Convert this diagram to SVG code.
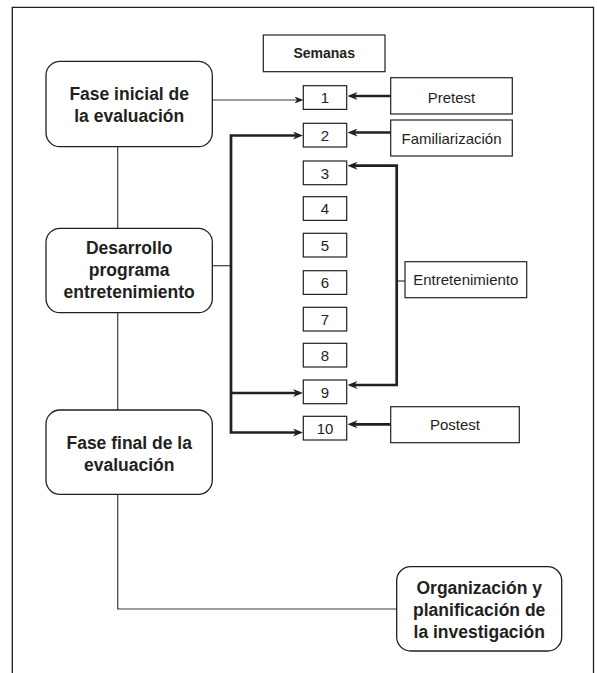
<svg xmlns="http://www.w3.org/2000/svg" width="597" height="673" viewBox="0 0 597 673">
<style>
.frame{fill:none;stroke:#231f20;stroke-width:1.3}
.rbox{fill:#fff;stroke:#231f20;stroke-width:1.3}
.box{fill:#fff;stroke:#231f20;stroke-width:1.2}
.thin{fill:none;stroke:#3a3a3a;stroke-width:1.2}
.thick{fill:none;stroke:#231f20;stroke-width:2.7;stroke-linejoin:miter}
.b{font-family:"Liberation Sans",Arial,sans-serif;font-weight:bold;font-size:17.5px;fill:#231f20;text-anchor:middle}
.r{font-family:"Liberation Sans",Arial,sans-serif;font-size:15px;fill:#231f20;text-anchor:middle}
.s{font-family:"Liberation Sans",Arial,sans-serif;font-weight:bold;font-size:14px;fill:#231f20;text-anchor:middle}
</style>
<defs>
<marker id="ah" viewBox="0 0 10 8" refX="4" refY="4" markerWidth="10" markerHeight="8" markerUnits="userSpaceOnUse" orient="auto-start-reverse">
<path d="M0,0 L10,4 L0,8 L3,4 z" fill="#231f20"/>
</marker>
<marker id="ahs" viewBox="0 0 9 7" refX="3" refY="3.5" markerWidth="9" markerHeight="7" markerUnits="userSpaceOnUse" orient="auto">
<path d="M0,0 L9,3.5 L0,7 L2.5,3.5 z" fill="#231f20"/>
</marker>
</defs>
<path class="frame" d="M12.3,673 V7.3 H593.5 V673"/>
<g id="connectors">
<path class="thin" d="M117.7,146.7 V228.3"/>
<path class="thin" d="M117.7,312.7 V410"/>
<path class="thin" d="M117.7,494.3 V609 H396.7"/>
<path class="thin" d="M212.3,265.7 H231"/>
<path class="thin" d="M396.7,281 H405"/>
<path class="thin" d="M212.3,100 H297.5" marker-end="url(#ahs)"/>
<path class="thick" d="M390.7,96 H353.5" marker-end="url(#ah)"/>
<path class="thick" d="M390.7,132.5 H353.5" marker-end="url(#ah)"/>
<path class="thick" d="M390.7,424.3 H353.5" marker-end="url(#ah)"/>
<path class="thick" d="M297,135.5 H231 V432.5 H297" marker-start="url(#ah)" marker-end="url(#ah)"/>
<path class="thick" d="M231,393 H297" marker-end="url(#ah)"/>
<path class="thick" d="M353.5,165.7 H396.7 V385 H353.5" marker-start="url(#ah)" marker-end="url(#ah)"/>
</g>
<g id="semanas">
<rect class="box" x="263.3" y="35" width="121.7" height="36.7"/>
<text class="s" x="324.2" y="57.5">Semanas</text>
</g>
<g id="fase-inicial">
<rect class="rbox" x="46" y="61.3" width="166.3" height="85.4" rx="14"/>
<text class="b" x="129.2" y="100">Fase inicial de</text>
<text class="b" x="129.2" y="122">la evaluación</text>
</g>
<g id="desarrollo">
<rect class="rbox" x="46" y="228.3" width="166.3" height="84.4" rx="14"/>
<text class="b" x="129.2" y="254">Desarrollo</text>
<text class="b" x="129.2" y="276">programa</text>
<text class="b" x="129.2" y="298">entretenimiento</text>
</g>
<g id="fase-final">
<rect class="rbox" x="46" y="410" width="166.3" height="84.3" rx="14"/>
<text class="b" x="129.2" y="448.5">Fase final de la</text>
<text class="b" x="129.2" y="470.7">evaluación</text>
</g>
<g id="organizacion">
<rect class="rbox" x="396.7" y="566.7" width="165" height="84.3" rx="14"/>
<text class="b" x="479.2" y="594.3">Organización y</text>
<text class="b" x="479.2" y="616">planificación de</text>
<text class="b" x="479.2" y="637.5">la investigación</text>
</g>
<g id="week-1"><rect class="box" x="303.3" y="85.7" width="43.4" height="23.7"/><text class="r" x="325" y="103.2">1</text></g>
<g id="week-2"><rect class="box" x="303.3" y="123.3" width="43.4" height="23.7"/><text class="r" x="325" y="140.8">2</text></g>
<g id="week-3"><rect class="box" x="303.3" y="161" width="43.4" height="23.7"/><text class="r" x="325" y="178.5">3</text></g>
<g id="week-4"><rect class="box" x="303.3" y="196.7" width="43.4" height="23.7"/><text class="r" x="325" y="214.2">4</text></g>
<g id="week-5"><rect class="box" x="303.3" y="233.3" width="43.4" height="23.7"/><text class="r" x="325" y="250.8">5</text></g>
<g id="week-6"><rect class="box" x="303.3" y="270.7" width="43.4" height="23.7"/><text class="r" x="325" y="288.2">6</text></g>
<g id="week-7"><rect class="box" x="303.3" y="307.3" width="43.4" height="23.7"/><text class="r" x="325" y="324.8">7</text></g>
<g id="week-8"><rect class="box" x="303.3" y="343.3" width="43.4" height="23.7"/><text class="r" x="325" y="360.8">8</text></g>
<g id="week-9"><rect class="box" x="303.3" y="380" width="43.4" height="23.7"/><text class="r" x="325" y="397.5">9</text></g>
<g id="week-10"><rect class="box" x="303.3" y="416.3" width="43.4" height="23.7"/><text class="r" x="325" y="433.8">10</text></g>
<g id="pretest">
<rect class="box" x="390.7" y="77.7" width="121.6" height="36.3"/>
<text class="r" x="451.5" y="102.5">Pretest</text>
</g>
<g id="familiarizacion">
<rect class="box" x="390.7" y="120" width="121.6" height="36"/>
<text class="r" x="451.5" y="144">Familiarización</text>
</g>
<g id="entretenimiento">
<rect class="box" x="405" y="261.7" width="121.7" height="36"/>
<text class="r" x="465.8" y="285">Entretenimiento</text>
</g>
<g id="postest">
<rect class="box" x="390.7" y="406.7" width="128.6" height="36"/>
<text class="r" x="455" y="430">Postest</text>
</g>
</svg>
